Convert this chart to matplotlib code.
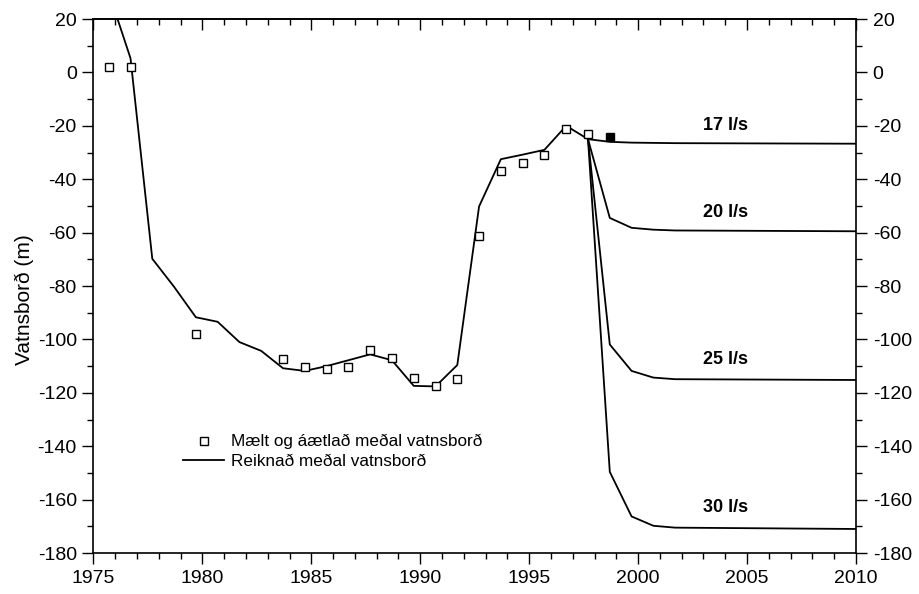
import matplotlib
matplotlib.use("Agg")
import matplotlib.pyplot as plt
from matplotlib.ticker import MultipleLocator
from matplotlib.lines import Line2D

plt.rcParams["font.family"] = ["Liberation Sans", "DejaVu Sans"]
plt.rcParams["axes.unicode_minus"] = False

# --- mælt / áætlað meðal vatnsborð ---
obs_years = [1975.7, 1976.7, 1979.7, 1983.7, 1984.7, 1985.7, 1986.7, 1987.7,
             1988.7, 1989.7, 1990.7, 1991.7, 1992.7, 1993.7, 1994.7, 1995.7,
             1996.7, 1997.7]
obs_level = [2.2, 2.2, -98.0, -107.5, -110.5, -111.0, -110.5, -103.8,
             -107.0, -114.5, -117.5, -115.0, -61.1, -36.8, -33.8, -31.0,
             -21.3, -23.2]
filled_year = [1998.7]
filled_level = [-24.3]

# --- reiknað meðal vatnsborð ---
calc_years = [1975.7, 1976.7, 1977.7, 1978.7, 1979.7, 1980.7, 1981.7, 1982.7,
              1983.7, 1984.7, 1985.7, 1986.7, 1987.7, 1988.7, 1989.7, 1990.7,
              1991.7, 1992.7, 1993.7, 1994.7, 1995.7, 1996.7, 1997.7]
calc_level = [30.0, 5.3, -69.8, -80.3, -91.7, -93.4, -101.0, -104.3,
              -110.8, -111.8, -110.0, -107.8, -105.6, -107.8, -117.4, -117.6,
              -109.6, -50.2, -32.5, -30.8, -29.0, -20.0, -25.0]

# --- spár fyrir mismunandi dælingu ---
scen_years = [1997.7, 1998.7, 1999.7, 2000.7, 2001.7, 2010.0]
scen_17 = [-25.0, -26.0, -26.3, -26.4, -26.5, -26.7]
scen_20 = [-25.0, -54.5, -58.2, -58.9, -59.2, -59.5]
scen_25 = [-25.0, -101.9, -111.8, -114.3, -114.9, -115.2]
scen_30 = [-25.0, -149.6, -166.3, -169.8, -170.5, -171.0]
scen_labels = ["17 l/s", "20 l/s", "25 l/s", "30 l/s"]
label_level = [-20.0, -52.5, -107.7, -162.9]
label_year = 2004.0

fig = plt.figure(figsize=(9.2, 5.94), dpi=100)
ax = fig.add_axes([0.1016, 0.069, 0.8288, 0.899])

lw = 1.3
ax.plot(calc_years, calc_level, color="black", lw=lw)
for series in (scen_17, scen_20, scen_25, scen_30):
    ax.plot(scen_years, series, color="black", lw=lw)
ax.plot(obs_years, obs_level, ls="none", marker="s", ms=5.5, mfc="white",
        mec="black", mew=1.0)
ax.plot(filled_year, filled_level, ls="none", marker="s", ms=5.5, mfc="black",
        mec="black", mew=1.0)

for lab, lev in zip(scen_labels, label_level):
    ax.text(label_year, lev, lab, ha="center", va="center", fontsize=13,
            fontweight="bold")

ax.set_xlim(1975, 2010)
ax.set_ylim(-180, 20)
ax.xaxis.set_major_locator(MultipleLocator(5))
ax.xaxis.set_minor_locator(MultipleLocator(1))
ax.yaxis.set_major_locator(MultipleLocator(20))
ax.yaxis.set_minor_locator(MultipleLocator(10))
ax.tick_params(axis="both", which="both", direction="out", labelsize=14,
               width=1.0, pad=4)
ax.tick_params(axis="y", which="both", left=True, right=True,
               labelleft=True, labelright=True)
ax.tick_params(which="major", length=8)
ax.tick_params(which="minor", length=4.5)

# efri ás: merki inn á við
top = ax.secondary_xaxis("top")
top.xaxis.set_major_locator(MultipleLocator(5))
top.xaxis.set_minor_locator(MultipleLocator(1))
top.tick_params(which="both", direction="in", labeltop=False, width=1.0)
top.tick_params(which="major", length=8)
top.tick_params(which="minor", length=4.5)

for side in ("top", "bottom", "left", "right"):
    ax.spines[side].set_linewidth(1.2)
top.spines["top"].set_linewidth(1.2)

ax.set_ylabel("Vatnsborð (m)", fontsize=15)
ax.yaxis.set_label_coords(-0.078, 0.474)

handles = [
    Line2D([], [], ls="none", marker="s", ms=5.5, mfc="white", mec="black", mew=1.0),
    Line2D([], [], color="black", lw=lw),
]
fig.legend(handles, ["Mælt og áætlað meðal vatnsborð", "Reiknað meðal vatnsborð"],
           loc="center left", bbox_to_anchor=(0.199, 0.2399), frameon=False,
           fontsize=12.3, handlelength=2.4, handletextpad=0.4, labelspacing=0.25,
           borderpad=0, borderaxespad=0)

fig.savefig("out.png", dpi=100)
